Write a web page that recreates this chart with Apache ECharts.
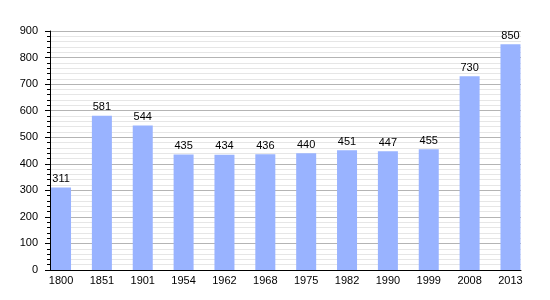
<!DOCTYPE html>
<html><head><meta charset="utf-8">
<script src="https://cdn.jsdelivr.net/npm/echarts@6/dist/echarts.min.js"></script>
<style>html,body{margin:0;padding:0;background:#fff}#c{width:550px;height:300px}</style>
</head><body><div id="c"></div>
<script>
const years = ['1800','1851','1901','1954','1962','1968','1975','1982','1990','1999','2008','2013'];
const population = [311,581,544,435,434,436,440,451,447,455,730,850];
const yTicks = {min:0, max:900, step:100};

const font = '"Liberation Sans", Arial, sans-serif';
const chart = echarts.init(document.getElementById('c'), null, {renderer:'canvas'});
chart.setOption({
  animation:false,
  grid:[
    {left:50, right:29, top:31, bottom:30},
    {left:40.6, width:490.3, top:31, bottom:30}
  ],
  xAxis:[
    {gridIndex:0, type:'category', data:years, show:true,
     axisLine:{show:true, lineStyle:{color:'#000', width:1}},
     axisTick:{show:false}, axisLabel:{show:false}, splitLine:{show:false}},
    {gridIndex:1, type:'category', data:years, boundaryGap:true,
     axisLine:{show:false}, axisTick:{show:false},
     axisLabel:{show:true, color:'#000', fontFamily:font, fontSize:11, margin:5, interval:0}}
  ],
  yAxis:[
    {gridIndex:0, type:'value', min:yTicks.min, max:yTicks.max, interval:yTicks.step,
     axisLine:{show:true, lineStyle:{color:'#000', width:1}},
     axisTick:{show:true, length:5, lineStyle:{color:'#000'}},
     minorTick:{show:true, splitNumber:5, length:3, lineStyle:{color:'#000'}},
     splitLine:{show:true, lineStyle:{color:'#b4b4b4', width:1}},
     minorSplitLine:{show:true, lineStyle:{color:'#e6e6e6', width:1}},
     axisLabel:{color:'#000', fontFamily:font, fontSize:11, margin:12}},
    {gridIndex:1, type:'value', min:yTicks.min, max:yTicks.max, show:false, splitLine:{show:false}}
  ],
  series:[{
    type:'bar', xAxisIndex:1, yAxisIndex:1, data:population, barWidth:20,
    itemStyle:{color:'#99b3ff'},
    label:{show:true, position:'top', distance:3, color:'#000', fontFamily:font, fontSize:11}
  }]
});
</script></body></html>
